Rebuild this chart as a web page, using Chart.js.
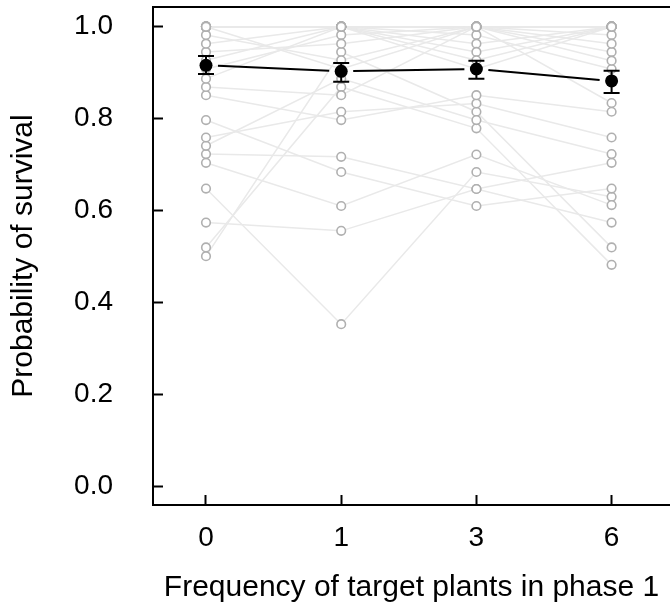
<!DOCTYPE html>
<html>
<head>
<meta charset="utf-8">
<script src="https://cdn.jsdelivr.net/npm/chart.js@4.4.1/dist/chart.umd.min.js"></script>
<style>
  html, body { margin: 0; padding: 0; background: #fff; overflow: hidden; }
  canvas { display: block; }
</style>
</head>
<body>
<canvas id="survivalChart" width="670" height="607"></canvas>
<script>
// categories on the x axis (plotted at positions 0..3)
const xLabels = ['0', '1', '3', '6'];
const yTicks = [0, 0.2, 0.4, 0.6, 0.8, 1.0];

// survival of each plant line, one array per frequency (same order of lines in each)
const surv0 = [0.648, 0.574, 0.704, 0.723, 0.797, 0.520, 0.501, 0.741, 0.759, 0.851, 0.869, 0.887, 0.908, 0.927,
               0.945, 0.963, 0.982, 1.0, 1.0, 1.0, 1.0, 1.0, 1.0, 1.0, 1.0, 1.0, 1.0, 1.0];
const surv1 = [0.353, 0.556, 0.610, 0.717, 0.684, 0.869, 0.945, 0.887, 0.815, 0.797, 0.851, 1.0, 0.982, 1.0,
               0.963, 1.0, 0.927, 1.0, 0.908, 1.0, 1.0, 1.0, 1.0, 1.0, 1.0, 1.0, 1.0, 1.0];
const surv3 = [0.684, 0.647, 0.722, 0.647, 0.610, 0.779, 0.815, 0.797, 0.833, 0.851, 1.0, 0.982, 1.0, 0.963,
               1.0, 0.945, 1.0, 0.927, 1.0, 1.0, 0.908, 1.0, 1.0, 1.0, 1.0, 1.0, 1.0, 1.0];
const surv6 = [0.630, 0.574, 0.612, 0.704, 0.648, 0.482, 0.520, 0.723, 0.759, 0.815, 0.834, 0.908, 0.945, 1.0,
               0.982, 1.0, 0.963, 1.0, 0.926, 1.0, 1.0, 1.0, 1.0, 1.0, 1.0, 1.0, 1.0, 1.0];

// mean and error bars
const meanSurv = [0.916, 0.903, 0.908, 0.882];
const errLow = [0.897, 0.880, 0.887, 0.856];
const errHigh = [0.936, 0.921, 0.926, 0.904];

const columns = [surv0, surv1, surv3, surv6];

Chart.defaults.font.family = '"Liberation Sans", Arial, sans-serif';
Chart.defaults.font.size = 28;
Chart.defaults.color = '#000';

const datasets = [];
// grey lines, one per plant line
for (let s = 0; s < surv0.length; s++) {
    datasets.push({
        data: columns.map((col, i) => ({ x: i, y: col[s] })),
        borderColor: '#e9e9e9',
        borderWidth: 1.5,
        pointRadius: 0,
        showLine: true,
        order: 3,
    });
}
// open grey circles on top of all the lines
const greyPoints = [];
columns.forEach((col, i) => col.forEach(v => greyPoints.push({ x: i, y: v })));
datasets.push({
    data: greyPoints,
    showLine: false,
    pointRadius: 4.3,
    pointBorderWidth: 1.6,
    pointBorderColor: '#b0b0b0',
    pointBackgroundColor: '#fff',
    order: 2,
});
// means
datasets.push({
    data: meanSurv.map((v, i) => ({ x: i, y: v })),
    showLine: false,
    pointRadius: 6.5,
    pointBorderWidth: 0,
    pointBackgroundColor: '#000',
    order: 1,
});
const meanIndex = datasets.length - 1;

// error bars and the mean line (broken near the points, like R's type = "b")
const meanDecor = {
    id: 'meanDecor',
    beforeDatasetDraw(chart, args) {
        if (args.index !== meanIndex) return;
        const { ctx } = chart;
        const xs = chart.scales.x, ys = chart.scales.y;
        ctx.save();
        ctx.strokeStyle = '#000';
        ctx.lineWidth = 2;
        ctx.beginPath();
        for (let i = 0; i < meanSurv.length; i++) {
            const px = xs.getPixelForValue(i);
            const lo = ys.getPixelForValue(errLow[i]);
            const hi = ys.getPixelForValue(errHigh[i]);
            ctx.moveTo(px, lo); ctx.lineTo(px, hi);
            ctx.moveTo(px - 8, lo); ctx.lineTo(px + 8, lo);
            ctx.moveTo(px - 8, hi); ctx.lineTo(px + 8, hi);
        }
        const gap = 12;
        for (let i = 0; i < meanSurv.length - 1; i++) {
            const x1 = xs.getPixelForValue(i), y1 = ys.getPixelForValue(meanSurv[i]);
            const x2 = xs.getPixelForValue(i + 1), y2 = ys.getPixelForValue(meanSurv[i + 1]);
            const len = Math.hypot(x2 - x1, y2 - y1);
            const dx = (x2 - x1) / len, dy = (y2 - y1) / len;
            ctx.moveTo(x1 + dx * gap, y1 + dy * gap);
            ctx.lineTo(x2 - dx * gap, y2 - dy * gap);
        }
        ctx.stroke();
        ctx.restore();
    }
};

new Chart(document.getElementById('survivalChart').getContext('2d'), {
    type: 'scatter',
    data: { datasets },
    options: {
        responsive: false,
        animation: false,
        layout: { autoPadding: false, padding: { top: 7, right: 0, bottom: 0, left: 0 } },
        plugins: { legend: { display: false }, tooltip: { enabled: false } },
        scales: {
            x: {
                type: 'linear',
                position: 'bottom',
                min: -0.392,
                max: 3.432,
                afterBuildTicks: scale => { scale.ticks = xLabels.map((_, i) => ({ value: i })); },
                afterFit: scale => {
                    scale.height = 102;
                    scale.paddingLeft = 0;
                    scale.paddingRight = 0;
                },
                ticks: {
                    padding: 26,
                    callback: value => xLabels[value],
                },
                grid: {
                    drawOnChartArea: false,
                    drawTicks: true,
                    tickLength: -10,
                    tickColor: '#000',
                    tickWidth: 2,
                },
                border: { display: true, color: '#000', width: 2 },
                title: {
                    display: true,
                    text: 'Frequency of target plants in phase 1',
                    font: { size: 30 },
                    padding: { top: 1, bottom: 1 },
                },
            },
            xTop: {
                type: 'linear',
                position: 'top',
                min: -0.392,
                max: 3.432,
                afterFit: scale => {
                    scale.height = 0;
                    scale.paddingLeft = 0;
                    scale.paddingRight = 0;
                },
                ticks: { display: false },
                grid: { display: false, drawTicks: false },
                border: { display: true, color: '#000', width: 2 },
            },
            y: {
                type: 'linear',
                position: 'left',
                min: -0.0402,
                max: 1.0428,
                afterBuildTicks: scale => { scale.ticks = yTicks.map(v => ({ value: v })); },
                afterFit: scale => {
                    scale.width = 153;
                    scale.paddingTop = 0;
                    scale.paddingBottom = 0;
                },
                ticks: {
                    padding: 50,
                    callback: value => value.toFixed(1),
                },
                grid: {
                    drawOnChartArea: false,
                    drawTicks: true,
                    tickLength: -10,
                    tickColor: '#000',
                    tickWidth: 2,
                },
                border: { display: true, color: '#000', width: 2 },
                title: {
                    display: true,
                    text: 'Probability of survival',
                    font: { size: 30 },
                    padding: { top: 6, bottom: 6 },
                },
            },
        },
    },
    plugins: [meanDecor],
});
</script>
</body>
</html>
